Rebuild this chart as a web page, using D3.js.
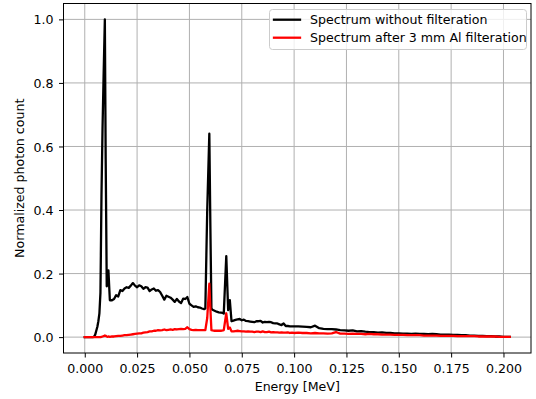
<!DOCTYPE html>
<html>
<head>
<meta charset="utf-8">
<script src="https://cdn.jsdelivr.net/npm/d3@7/dist/d3.min.js"></script>
<style>
  body { margin: 0; background: #fff; }
  svg { display: block; font-family: "DejaVu Sans", sans-serif; }
</style>
</head>
<body>
<svg id="chart" width="536" height="399"></svg>
<script>
// photon energy in keV, one row per stretch of the spectrum
var energyKeV = [
  0, 1, 2, 3, 4, 4.5, 5, 5.5, 6, 6.5, 7, 7.5, 8, 8.5, 9, 9.6, 10, 10.5, 11, 11.3, 12,
  13, 14, 15, 16, 17, 18, 19, 20, 21, 22, 23, 24, 25, 26, 27,
  28, 29, 30, 31, 32, 33, 34, 35, 36, 37, 38, 39, 40, 41, 42,
  43, 44, 45, 46, 47, 48, 49, 50, 51, 52, 53, 54, 55, 56, 57,
  57.6, 58.5, 59.5, 60, 60.5, 61,
  62, 63, 64, 65, 66, 66.4, 67.6, 68.5, 69.3, 70.1, 71,
  72, 73, 74, 75, 76, 77, 78, 79, 80, 81, 82, 83, 84, 85, 86,
  87, 88, 89, 90, 91, 92, 93, 94, 95, 96, 97, 98, 99, 100,
  102, 104, 106, 108, 110, 112, 114, 116, 118, 120, 122, 124, 126,
  128, 130, 132, 134, 136, 138, 140, 142, 144, 146, 148, 150, 152,
  154, 156, 158, 160, 162, 164, 166, 168, 170, 172, 174, 176, 178,
  180, 182, 184, 186, 188, 190, 192, 194, 196, 198, 200, 202, 203
];

// normalized count, no filter (black)
var unfiltered = [
  0, 0, 0, 0, 0, 0.002, 0.008, 0.02, 0.032, 0.05, 0.075, 0.14, 0.45, 0.66, 0.82, 1.0, 0.56, 0.16, 0.17, 0.21, 0.116,
  0.116, 0.12, 0.132, 0.128, 0.148, 0.145, 0.153, 0.157, 0.155, 0.162, 0.17, 0.162, 0.157, 0.163, 0.16,
  0.152, 0.157, 0.156, 0.145, 0.15, 0.153, 0.146, 0.148, 0.142, 0.13, 0.118, 0.13, 0.127, 0.124, 0.118,
  0.111, 0.12, 0.112, 0.107, 0.121, 0.12, 0.126, 0.105, 0.1, 0.095, 0.097, 0.094, 0.093, 0.09, 0.088,
  0.09, 0.4, 0.64, 0.35, 0.09, 0.086,
  0.083, 0.08, 0.078, 0.077, 0.076, 0.074, 0.255, 0.085, 0.116, 0.05, 0.052,
  0.054, 0.056, 0.057, 0.053, 0.055, 0.051, 0.05, 0.049, 0.048, 0.047, 0.05, 0.05, 0.051, 0.046, 0.048,
  0.047, 0.048, 0.047, 0.044, 0.043, 0.043, 0.04, 0.038, 0.043, 0.035, 0.035, 0.034, 0.034, 0.034,
  0.034, 0.033, 0.032, 0.031, 0.036, 0.028, 0.026, 0.025, 0.025, 0.024, 0.022, 0.021, 0.02,
  0.021, 0.018, 0.019, 0.017, 0.016, 0.016, 0.014, 0.015, 0.013, 0.013, 0.012, 0.012, 0.011,
  0.011, 0.01, 0.011, 0.01, 0.01, 0.009, 0.01, 0.009, 0.008, 0.008, 0.008, 0.007, 0.007,
  0.006, 0.006, 0.005, 0.005, 0.004, 0.004, 0.003, 0.003, 0.002, 0.002, 0.001, 0.001, 0.001
];

// normalized count, after 3 mm Al (red)
var filtered = [
  0, 0, 0, 0, 0, 0, 0, 0, 0, 0, 0, 0, 0.001, 0.002, 0.003, 0.005, 0.004, 0.002, 0.001, 0.002, 0.001,
  0.002, 0.002, 0.003, 0.004, 0.004, 0.005, 0.006, 0.006, 0.007, 0.008, 0.009, 0.01, 0.011, 0.012, 0.012,
  0.014, 0.015, 0.016, 0.018, 0.018, 0.02, 0.02, 0.022, 0.021, 0.022, 0.024, 0.022, 0.023, 0.024, 0.023,
  0.025, 0.024, 0.025, 0.026, 0.025, 0.026, 0.031, 0.025, 0.023, 0.022, 0.023, 0.022, 0.022, 0.022, 0.022,
  0.022, 0.06, 0.168, 0.09, 0.022, 0.021,
  0.02, 0.02, 0.02, 0.02, 0.021, 0.022, 0.075, 0.026, 0.03, 0.018, 0.018,
  0.019, 0.02, 0.019, 0.018, 0.018, 0.017, 0.018, 0.017, 0.017, 0.016, 0.017, 0.017, 0.016, 0.018, 0.016,
  0.016, 0.017, 0.015, 0.016, 0.015, 0.015, 0.014, 0.015, 0.014, 0.014, 0.015, 0.013, 0.014, 0.013,
  0.014, 0.013, 0.013, 0.012, 0.013, 0.012, 0.012, 0.011, 0.012, 0.016, 0.011, 0.011, 0.01,
  0.011, 0.01, 0.01, 0.009, 0.01, 0.009, 0.009, 0.008, 0.008, 0.008, 0.007, 0.007, 0.007,
  0.006, 0.006, 0.006, 0.006, 0.005, 0.005, 0.005, 0.005, 0.004, 0.004, 0.004, 0.004, 0.003,
  0.003, 0.003, 0.003, 0.003, 0.002, 0.002, 0.002, 0.002, 0.002, 0.001, 0.001, 0.001, 0.001
];

var xTicks = [0, 0.025, 0.05, 0.075, 0.1, 0.125, 0.15, 0.175, 0.2];
var yTicks = [0, 0.2, 0.4, 0.6, 0.8, 1.0];
var seriesNames = ["Spectrum without filteration", "Spectrum after 3 mm Al filteration"];
var seriesColors = ["#000000", "#ff0000"];

var fontSize = 12.6;
var box = {left: 63.5, right: 531, top: 3.5, bottom: 353};

var energy = energyKeV.map(function(e) { return e / 1000; });
var xMin = d3.min(energy), xMax = d3.max(energy);
var xPad = 0.05 * (xMax - xMin);
var x = d3.scaleLinear()
  .domain([xMin - xPad, xMax + xPad])
  .range([box.left, box.right]);

var y = d3.scaleLinear()
  .domain([-0.05, 1.05])
  .range([box.bottom, box.top]);

var svg = d3.select("#chart");
svg.append("rect")
  .attr("width", 536).attr("height", 399)
  .attr("fill", "#fff");

// grid
svg.append("g").selectAll("line")
  .data(xTicks).enter().append("line")
  .attr("x1", function(d) { return x(d); }).attr("x2", function(d) { return x(d); })
  .attr("y1", box.top).attr("y2", box.bottom)
  .attr("stroke", "#b0b0b0").attr("stroke-width", 1);
svg.append("g").selectAll("line")
  .data(yTicks).enter().append("line")
  .attr("x1", box.left).attr("x2", box.right)
  .attr("y1", function(d) { return y(d); }).attr("y2", function(d) { return y(d); })
  .attr("stroke", "#b0b0b0").attr("stroke-width", 1);

// spectra
var line = d3.line()
  .x(function(d) { return x(d[0]); })
  .y(function(d) { return y(d[1]); });

[unfiltered, filtered].forEach(function(vals, i) {
  var pts = energy.map(function(e, j) { return [e, vals[j]]; });
  svg.append("path")
    .datum(pts)
    .attr("fill", "none")
    .attr("stroke", seriesColors[i])
    .attr("stroke-width", 2.3)
    .attr("stroke-linejoin", "round")
    .attr("stroke-linecap", "square")
    .attr("d", line);
});

// axes
var xAxis = svg.append("g")
  .attr("transform", "translate(0," + box.bottom + ")")
  .call(d3.axisBottom(x).tickValues(xTicks).tickFormat(d3.format(".3f")).tickSize(4.5).tickSizeOuter(0));
xAxis.select(".domain").remove();
xAxis.selectAll("text")
  .attr("y", 20.3).attr("dy", null)
  .style("font-size", fontSize + "px").style("font-family", "DejaVu Sans");

var yAxis = svg.append("g")
  .attr("transform", "translate(" + box.left + ",0)")
  .call(d3.axisLeft(y).tickValues(yTicks).tickFormat(d3.format(".1f")).tickSize(4.5).tickSizeOuter(0));
yAxis.select(".domain").remove();
yAxis.selectAll("text")
  .attr("x", -10).attr("dy", "0.36em")
  .style("font-size", fontSize + "px").style("font-family", "DejaVu Sans");

svg.append("rect")
  .attr("x", box.left).attr("y", box.top)
  .attr("width", box.right - box.left).attr("height", box.bottom - box.top)
  .attr("fill", "none").attr("stroke", "#000").attr("stroke-width", 1);

// axis titles
svg.append("text")
  .attr("x", (box.left + box.right) / 2).attr("y", 391)
  .attr("text-anchor", "middle")
  .style("font-size", fontSize + "px")
  .text("Energy [MeV]");

svg.append("g")
  .attr("transform", "translate(24," + ((box.top + box.bottom) / 2) + ")")
  .append("text")
  .attr("text-anchor", "middle")
  .attr("transform", "rotate(-90)")
  .style("font-size", fontSize + "px")
  .text("Normalized photon count");

// legend
var legend = svg.append("g");
legend.append("rect")
  .attr("x", 269.5).attr("y", 9.5).attr("width", 257).attr("height", 40).attr("rx", 3)
  .attr("fill", "#fff").attr("fill-opacity", 0.8)
  .attr("stroke", "#cccccc").attr("stroke-width", 1);

var rows = legend.selectAll(".row")
  .data(seriesNames).enter().append("g")
  .attr("class", "row")
  .attr("transform", function(d, i) { return "translate(0," + (19.7 + i * 18) + ")"; });
rows.append("line")
  .attr("x1", 274).attr("x2", 300)
  .attr("stroke", function(d, i) { return seriesColors[i]; })
  .attr("stroke-width", 2.3).attr("stroke-linecap", "square");
rows.append("text")
  .attr("x", 310).attr("y", 4.4)
  .style("font-size", fontSize + "px")
  .text(function(d) { return d; });
</script>
</body>
</html>
